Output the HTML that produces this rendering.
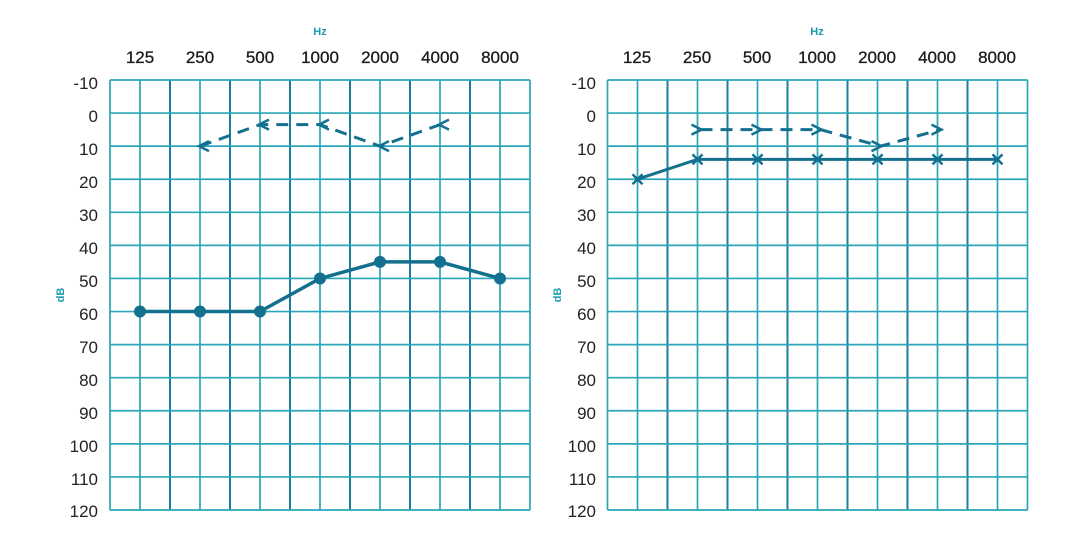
<!DOCTYPE html><html><head><style>body{margin:0;background:#fff}svg{display:block}text{font-family:"Liberation Sans",sans-serif}</style></head><body>
<svg id="s" width="1081" height="538" viewBox="0 0 1081 538">
<g font-size="17" fill="#1a1a1a" text-anchor="middle" stroke="#1a1a1a" stroke-width="0.3">
<text x="140" y="63">125</text><text x="200" y="63">250</text><text x="260" y="63">500</text><text x="320" y="63">1000</text><text x="380" y="63">2000</text><text x="440" y="63">4000</text><text x="500" y="63">8000</text>
<text x="637" y="63">125</text><text x="697" y="63">250</text><text x="757" y="63">500</text><text x="817" y="63">1000</text><text x="877" y="63">2000</text><text x="937" y="63">4000</text><text x="997" y="63">8000</text>
</g>
<g font-size="17" fill="#222" text-anchor="end">
<text x="98" y="89">-10</text><text x="98" y="122">0</text><text x="98" y="155">10</text><text x="98" y="188">20</text><text x="98" y="221">30</text><text x="98" y="254">40</text><text x="98" y="287">50</text><text x="98" y="320">60</text><text x="98" y="353">70</text><text x="98" y="386">80</text><text x="98" y="419">90</text><text x="98" y="452">100</text><text x="98" y="485">110</text><text x="98" y="517">120</text>
<text x="596" y="89">-10</text><text x="596" y="122">0</text><text x="596" y="155">10</text><text x="596" y="188">20</text><text x="596" y="221">30</text><text x="596" y="254">40</text><text x="596" y="287">50</text><text x="596" y="320">60</text><text x="596" y="353">70</text><text x="596" y="386">80</text><text x="596" y="419">90</text><text x="596" y="452">100</text><text x="596" y="485">110</text><text x="596" y="517">120</text>
</g>
<g font-size="11" font-weight="bold" fill="#1a9bb0" text-anchor="middle">
<text x="320" y="35">Hz</text><text x="817" y="35">Hz</text>
<text transform="translate(64,295) rotate(-90)">dB</text>
<text transform="translate(561,295) rotate(-90)">dB</text>
</g>
<g id="g"></g>
</svg>
<script>
var g=document.getElementById('g'),h='';
function Y(v){return 80+(v+10)*3.3077}
function L(x1,y1,x2,y2,c,w,d){h+='<line x1="'+x1+'" y1="'+y1+'" x2="'+x2+'" y2="'+y2+'" stroke="'+c+'" stroke-width="'+w+'"'+(d?' stroke-dasharray="'+d+'"':'')+'/>'}
[110,607.5].forEach(function(o){
 for(var i=0;i<=14;i++){var x=o+30*i;var dark=(i%2==0&&i>0&&i<14);L(x,80,x,510,dark?'#1b7f9c':'#2aa6b8',dark?2:1.7)}
 for(var j=0;j<=13;j++){var y=80+j*430/13;L(o,y,o+420,y,'#2aa6b8',1.7)}
});
var C='#13708f';
function X(o,i){return o+30+60*i}
var lv=[60,60,60,50,45,45,50],p='';
lv.forEach(function(v,i){p+=(i?'L':'M')+X(110,i)+' '+Y(v)});
h+='<path d="'+p+'" fill="none" stroke="'+C+'" stroke-width="3.5"/>';
lv.forEach(function(v,i){h+='<circle cx="'+X(110,i)+'" cy="'+Y(v)+'" r="6" fill="'+C+'"/>'});
var ld=[[1,10],[2,3.5],[3,3.5],[4,10],[5,3.5]];p='';
ld.forEach(function(a,k){p+=(k?'L':'M')+X(110,a[0])+' '+Y(a[1])});
h+='<path d="'+p+'" fill="none" stroke="'+C+'" stroke-width="3" stroke-dasharray="12 8"/>';
ld.forEach(function(a){var x=X(110,a[0]),y=Y(a[1]);h+='<path d="M'+(x+9)+' '+(y-5)+'L'+(x-1)+' '+y+'L'+(x+9)+' '+(y+5)+'" fill="none" stroke="'+C+'" stroke-width="2.5"/>'});
var rv=[20,14,14,14,14,14,14];p='';
rv.forEach(function(v,i){p+=(i?'L':'M')+X(607.5,i)+' '+Y(v)});
h+='<path d="'+p+'" fill="none" stroke="'+C+'" stroke-width="3"/>';
rv.forEach(function(v,i){var x=X(607.5,i),y=Y(v);L(x-5,y-5,x+5,y+5,C,2.5);L(x-5,y+5,x+5,y-5,C,2.5)});
var rd=[[1,5],[2,5],[3,5],[4,10],[5,5]];p='';
rd.forEach(function(a,k){p+=(k?'L':'M')+(X(607.5,a[0])+3)+' '+Y(a[1])});
h+='<path d="'+p+'" fill="none" stroke="'+C+'" stroke-width="3" stroke-dasharray="12 8"/>';
rd.forEach(function(a){var x=X(607.5,a[0])+3,y=Y(a[1]);h+='<path d="M'+(x-9)+' '+(y-5)+'L'+(x+1)+' '+y+'L'+(x-9)+' '+(y+5)+'" fill="none" stroke="'+C+'" stroke-width="2.5"/>'});
g.innerHTML=h;
</script>
</body></html>
